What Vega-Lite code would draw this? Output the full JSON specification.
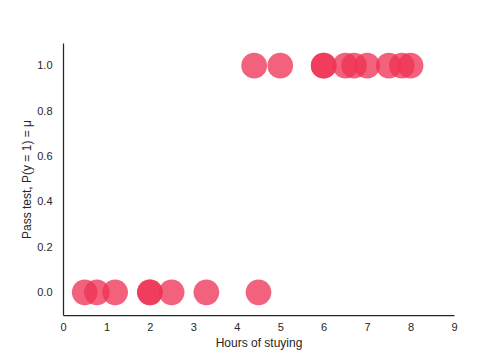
{
  "$schema": "https://vega.github.io/schema/vega-lite/v6.json",
  "width": 391,
  "height": 272,
  "autosize": {"type": "none"},
  "padding": {"left": 63, "top": 43, "right": 50, "bottom": 45},
  "background": "white",
  "config": {
    "view": {"stroke": null},
    "axis": {
      "grid": false,
      "ticks": false,
      "labelFlush": false,
      "domainColor": "#262626",
      "domainWidth": 1.25,
      "labelColor": "#262626",
      "titleColor": "#262626",
      "labelFont": "Liberation Sans",
      "titleFont": "Liberation Sans",
      "labelFontSize": 11,
      "titleFontSize": 12,
      "titleFontWeight": "normal"
    }
  },
  "data": {
    "values": [
      {"hours": 0.5, "pass": 0},
      {"hours": 0.78, "pass": 0},
      {"hours": 1.2, "pass": 0},
      {"hours": 2.0, "pass": 0},
      {"hours": 2.0, "pass": 0},
      {"hours": 2.5, "pass": 0},
      {"hours": 3.3, "pass": 0},
      {"hours": 4.5, "pass": 0},
      {"hours": 4.4, "pass": 1},
      {"hours": 5.0, "pass": 1},
      {"hours": 6.0, "pass": 1},
      {"hours": 6.0, "pass": 1},
      {"hours": 6.5, "pass": 1},
      {"hours": 6.7, "pass": 1},
      {"hours": 7.0, "pass": 1},
      {"hours": 7.5, "pass": 1},
      {"hours": 7.8, "pass": 1},
      {"hours": 8.0, "pass": 1}
    ]
  },
  "mark": {"type": "circle", "size": 660, "color": "#ef3354", "opacity": 0.77},
  "encoding": {
    "x": {
      "field": "hours",
      "type": "quantitative",
      "scale": {"domain": [0, 9], "nice": false, "zero": false},
      "axis": {
        "title": "Hours of stuying",
        "values": [0, 1, 2, 3, 4, 5, 6, 7, 8, 9],
        "format": "d",
        "labelPadding": 6,
        "titlePadding": 5
      }
    },
    "y": {
      "field": "pass",
      "type": "quantitative",
      "scale": {"domain": [-0.1, 1.1], "nice": false, "zero": false},
      "axis": {
        "title": "Pass test, P(y = 1) = μ",
        "values": [0, 0.2, 0.4, 0.6, 0.8, 1.0],
        "format": ".1f",
        "labelPadding": 11,
        "titlePadding": 3
      }
    }
  }
}
